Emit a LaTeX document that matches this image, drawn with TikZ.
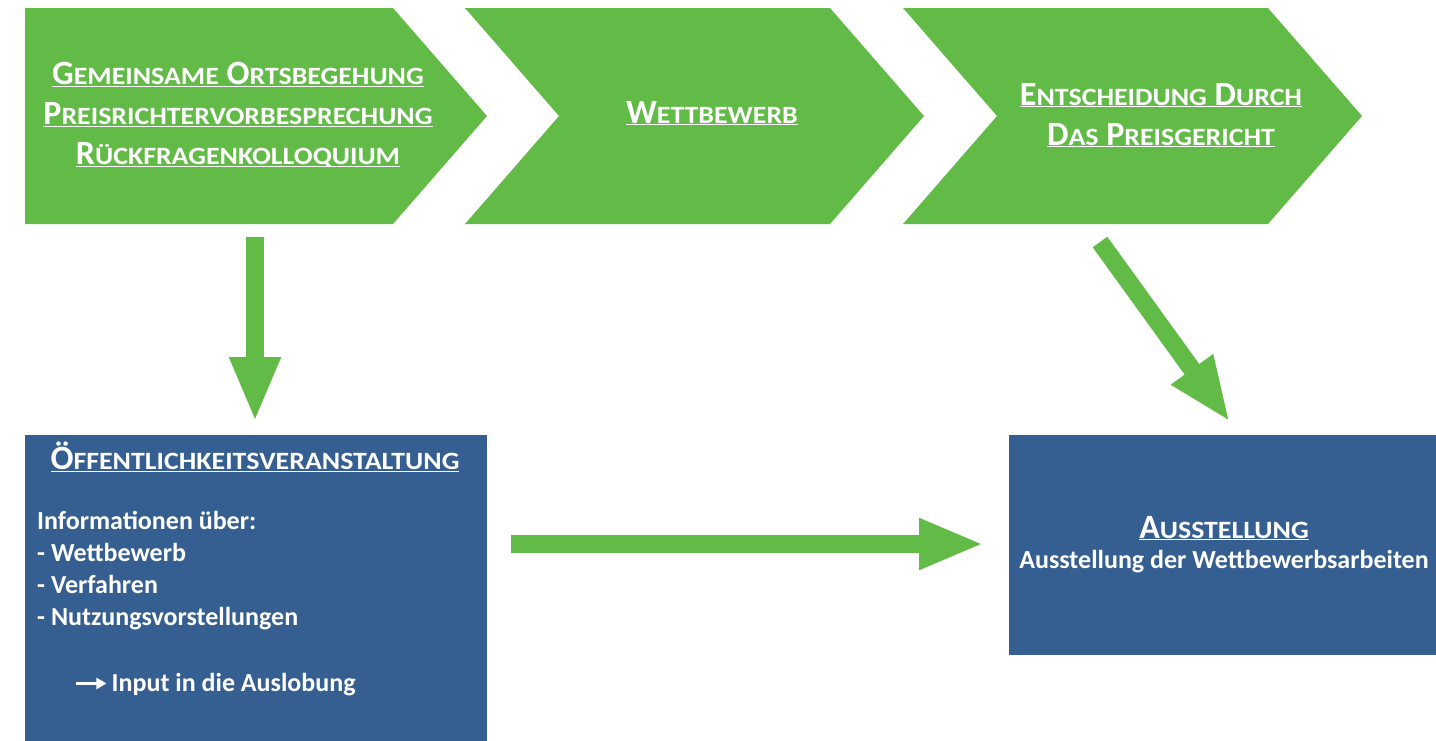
\documentclass[tikz,border=0pt]{standalone}
\usepackage{fontspec}
\setmainfont{Carlito}
\newfontfamily\kapfont[FakeStretch=1.12]{Carlito}
\usepackage{relsize}
\usetikzlibrary{arrows.meta}
\definecolor{gruen}{RGB}{98,187,70}
\definecolor{blau}{RGB}{54,95,145}
% Kapitaelchen und Unterstreichung auf gleicher Hoehe
\newcommand\kap[1]{\textscale{.78}{\kapfont #1}}
\newcommand\unter[1]{\underline{\smash{#1}}\vphantom{#1}}
\newcommand\weiter{\tikz[baseline]\draw[white, line width=2.5pt, -{Triangle[length=10pt,width=11pt]}] (0pt,8pt) -- (30pt,8pt);}
\tikzset{
  schritt/.style={fill=gruen},
  kasten/.style={fill=blau, inner sep=0pt, anchor=north west},
  titel/.style={text=white, align=center, font=\bfseries\fontsize{34}{40}\selectfont},
  inhalt/.style={text=white, align=left, inner sep=0pt, font=\bfseries\fontsize{26}{32}\selectfont},
  pfeil/.style={draw=gruen, line width=18pt, -{Triangle[width=47pt,length=65pt]}}
}
\begin{document}
\begin{tikzpicture}[x=1pt,y=-1pt]
  \useasboundingbox (0,0) rectangle (1436,740);
  % die drei Schritte
  \fill[schritt] (25,8) -- (393,8) -- (487,116) -- (393,224) -- (25,224) -- cycle;
  \fill[schritt] (465,8) -- (830,8) -- (924,116) -- (830,224) -- (465,224) -- (559,116) -- cycle;
  \fill[schritt] (903,8) -- (1268,8) -- (1362,116) -- (1268,224) -- (903,224) -- (997,116) -- cycle;
  \node[titel] (ortsbegehung) at (238,115)
    {\unter{G\kap{EMEINSAME} O\kap{RTSBEGEHUNG}}\\
     \unter{P\kap{REISRICHTERVORBESPRECHUNG}}\\
     \unter{R\kap{ÜCKFRAGENKOLLOQUIUM}}};
  \node[titel] (wettbewerb) at (712,113) {\unter{W\kap{ETTBEWERB}}};
  \node[titel] (entscheidung) at (1161,115)
    {\unter{E\kap{NTSCHEIDUNG} D\kap{URCH}}\\
     \unter{D\kap{AS} P\kap{REISGERICHT}}};
  % Kaesten
  \node[kasten, minimum width=462pt, minimum height=310pt] (oeffentlichkeit) at (25,435) {};
  \node[kasten, minimum width=427pt, minimum height=220pt] (ausstellung) at (1009,435) {};
  \node[titel] (oeff-titel) at (255,457) {\unter{Ö\kap{FFENTLICHKEITSVERANSTALTUNG}}};
  \node[inhalt, anchor=north west] (oeff-text) at (37,511)
    {Informationen über:\\
     - Wettbewerb\\
     - Verfahren\\
     - Nutzungsvorstellungen\\[34pt]
     \hspace*{38pt}\weiter\hspace*{4pt}Input in die Auslobung};
  \node[titel] (ausst-titel) at (1224,528) {\unter{A\kap{USSTELLUNG}}};
  \node[inhalt] (ausst-text) at (1224,562) {Ausstellung der Wettbewerbsarbeiten};
  % Pfeile
  \coordinate (a1) at (255,237);
  \coordinate (a2) at (255,422);
  \coordinate (b1) at (511,544);
  \coordinate (b2) at (984,544);
  \coordinate (c1) at (1100,242);
  \coordinate (c2) at (1230,422);
  \draw[pfeil] (a1) -- (a2);
  \draw[pfeil] (b1) -- (b2);
  \draw[pfeil] (c1) -- (c2);
\end{tikzpicture}
\end{document}
